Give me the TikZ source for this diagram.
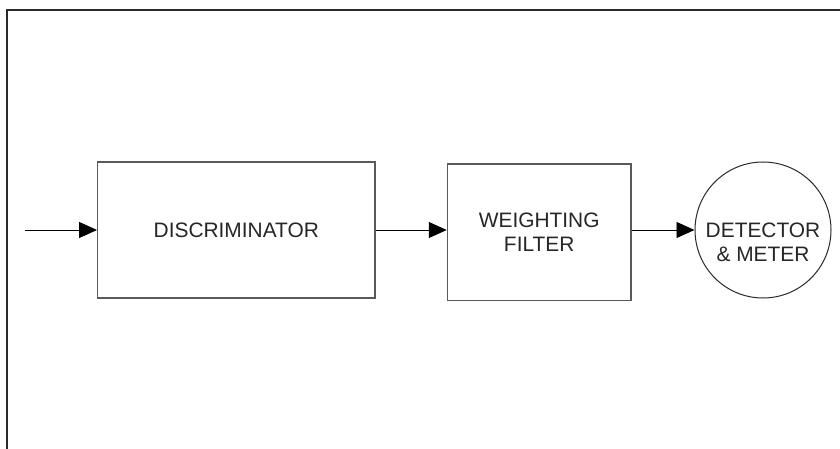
\documentclass[tikz,border=0pt]{standalone}
\usepackage{fontspec}
\setmainfont{Liberation Sans}
\usetikzlibrary{arrows.meta}
\definecolor{framecol}{HTML}{2A2A2A}
\definecolor{boxline}{HTML}{5A5A5A}
\definecolor{ink}{HTML}{262626}
\begin{document}
\begin{tikzpicture}[x=1pt,y=-1pt,
  blk/.style={draw=boxline, line width=1.2pt, rectangle, inner sep=0pt,
    font=\fontsize{20.9}{23.5}\selectfont, text=ink, align=center},
  ring/.style={draw=framecol, line width=1pt, circle, inner sep=0pt, minimum size=136pt},
  lbl/.style={font=\fontsize{20.9}{24}\selectfont, text=ink, align=center, inner sep=0pt},
  flow/.style={line width=0.9pt, -{Triangle[length=18pt,width=16pt]}},
]
\useasboundingbox (0,0) rectangle (840,449);
% outer frame: top and left edges
\draw[framecol, line width=2.5pt] (7,449) -- (7,10) -- (840,10);

% blocks
\node[blk, minimum width=277.3pt, minimum height=136pt] (disc) at (236.3,230) {DISCRIMINATOR};
\node[blk, minimum width=183.7pt, minimum height=136.7pt] (wf) at (539.2,232.3) {WEIGHTING\\FILTER};
\node[ring] (det) at (763,230) {};
\node[lbl] (detlbl) at (763,242) {DETECTOR\\\& METER};

% signal path
\coordinate (in) at (25,230);
\draw[flow] (in) -- (disc.west);
\draw[flow] (disc.east) -- (disc.east -| wf.west);
\draw[flow] (disc.east -| wf.east) -- (det.west);
\end{tikzpicture}
\end{document}
